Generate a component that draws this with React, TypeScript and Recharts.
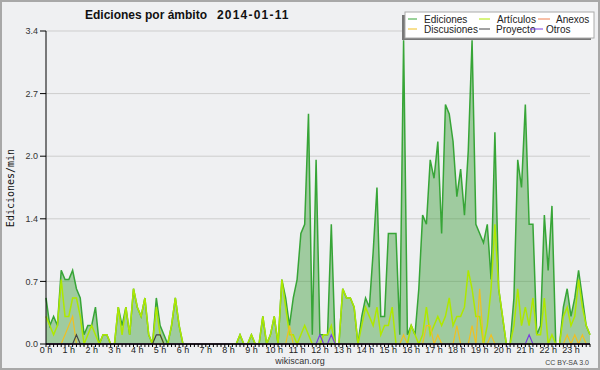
import React from 'react';
import {
  ComposedChart, Area, Line, XAxis, YAxis, CartesianGrid, ReferenceLine,
} from 'recharts';

// one value per 10-minute slot (0h00 .. 23h50), edits per minute
const ediciones = [
  0.5, 0.2, 0.3, 0.2, 0.8, 0.7, 0.7, 0.8, 0.6, 0.5, 0.1, 0.2,
  0.2, 0.4, 0, 0.1, 0.1, 0, 0, 0.4, 0.2, 0.4, 0.1, 0.6,
  0.4, 0.3, 0.5, 0.1, 0, 0.5, 0.2, 0.1, 0, 0.2, 0.5, 0.2,
  0, 0, 0, 0, 0, 0, 0, 0, 0, 0, 0, 0,
  0, 0, 0, 0.1, 0, 0, 0.1, 0, 0, 0.3, 0, 0.1,
  0.3, 0, 0.7, 0.5, 0.2, 0.5, 0.7, 1.2, 1.3, 2.5, 0.1, 2.0,
  0.1, 0.1, 0.1, 1.3, 0, 0, 0.6, 0.5, 0.5, 0.4, 0, 0.3,
  0.5, 0.4, 1.0, 1.7, 0.3, 0.3, 1.2, 1.2, 1.2, 0.1, 3.3, 0.1,
  0.2, 0.1, 0.6, 1.4, 1.3, 2.0, 1.8, 2.2, 1.2, 2.6, 2.5, 2.2,
  1.6, 1.9, 1.4, 2.1, 3.3, 1.3, 1.2, 1.1, 1.3, 0.7, 2.3, 0.6,
  0.3, 0, 0, 0.5, 2.0, 1.7, 2.6, 1.3, 1.3, 0.1, 0.2, 1.4,
  0.8, 1.5, 0, 0, 0.4, 0.6, 0.3, 0.5, 0.8, 0.5, 0.2, 0.1,
];

const articulos = [
  0.3, 0.2, 0.1, 0.2, 0.7, 0.3, 0.3, 0.5, 0.5, 0.3, 0, 0.1,
  0.2, 0.1, 0, 0.1, 0.1, 0, 0, 0.4, 0.1, 0.4, 0.1, 0.6,
  0.4, 0.3, 0.5, 0.1, 0, 0.4, 0.1, 0, 0, 0.2, 0.5, 0.2,
  0, 0, 0, 0, 0, 0, 0, 0, 0, 0, 0, 0,
  0, 0, 0, 0.1, 0, 0, 0.1, 0, 0, 0.3, 0, 0.1,
  0.3, 0, 0.7, 0.4, 0.1, 0.1, 0, 0.1, 0.2, 0.1, 0, 0,
  0, 0.1, 0.1, 0.2, 0, 0, 0.6, 0.5, 0.5, 0.4, 0, 0.2,
  0.4, 0.3, 0.2, 0.4, 0.1, 0.2, 0.2, 0.4, 0, 0, 0, 0,
  0.2, 0.1, 0, 0.1, 0.4, 0.1, 0.2, 0.3, 0.2, 0.3, 0.5, 0.2,
  0.3, 0.3, 0.4, 0.8, 0.6, 0.3, 0.3, 0, 0.2, 0.6, 1.3, 0.6,
  0.3, 0, 0, 0.2, 0.6, 0.2, 0.4, 0.2, 0.5, 0.1, 0.1, 0.5,
  0, 0.1, 0, 0, 0.3, 0.4, 0.2, 0.3, 0.7, 0.4, 0.2, 0.1,
];

const anexos = [
  0, 0, 0, 0, 0, 0, 0, 0, 0, 0, 0, 0, 0, 0, 0, 0, 0, 0, 0, 0, 0, 0, 0, 0,
  0, 0, 0, 0, 0, 0, 0, 0, 0, 0, 0, 0, 0, 0, 0, 0, 0, 0, 0, 0, 0, 0, 0, 0,
  0, 0, 0, 0, 0, 0, 0, 0, 0, 0, 0, 0, 0, 0, 0, 0, 0, 0, 0, 0, 0, 0, 0, 0,
  0, 0, 0, 0, 0, 0, 0, 0, 0, 0, 0, 0, 0, 0, 0, 0, 0, 0, 0, 0, 0, 0, 0, 0,
  0, 0, 0, 0, 0, 0, 0, 0, 0, 0, 0, 0, 0, 0, 0, 0, 0, 0, 0, 0, 0, 0, 0, 0,
  0, 0, 0, 0, 0, 0, 0, 0, 0, 0, 0, 0, 0, 0, 0, 0, 0, 0, 0, 0, 0, 0, 0, 0,
];

const discusiones = [
  0, 0, 0, 0, 0, 0.1, 0.2, 0.3, 0, 0, 0, 0, 0, 0, 0, 0, 0, 0, 0, 0, 0, 0, 0, 0,
  0, 0, 0, 0, 0, 0, 0, 0, 0, 0, 0, 0, 0, 0, 0, 0, 0, 0, 0, 0, 0, 0, 0, 0,
  0, 0, 0, 0, 0, 0, 0, 0, 0, 0, 0, 0, 0, 0, 0, 0, 0.2, 0, 0, 0, 0, 0, 0, 0,
  0, 0, 0, 0, 0, 0, 0, 0, 0, 0, 0, 0, 0, 0, 0, 0, 0, 0, 0, 0, 0, 0, 0.1, 0,
  0, 0, 0, 0, 0.2, 0.2, 0, 0.1, 0, 0, 0, 0, 0.2, 0, 0, 0, 0.2, 0, 0.6, 0, 0, 0.1, 0, 0,
  0, 0, 0, 0, 0, 0, 0, 0, 0, 0, 0, 0, 0, 0, 0, 0, 0, 0.1, 0, 0.1, 0, 0.1, 0, 0,
];

const proyecto = [
  0, 0, 0, 0, 0, 0, 0, 0, 0.1, 0, 0, 0, 0, 0, 0, 0, 0, 0, 0, 0, 0, 0, 0, 0,
  0, 0, 0, 0, 0, 0.1, 0.1, 0, 0, 0, 0, 0, 0, 0, 0, 0, 0, 0, 0, 0, 0, 0, 0, 0,
  0, 0, 0, 0, 0, 0, 0, 0, 0, 0, 0, 0, 0, 0, 0, 0, 0, 0, 0, 0, 0, 0, 0, 0,
  0, 0, 0, 0, 0, 0, 0, 0, 0, 0, 0, 0, 0, 0, 0, 0, 0, 0, 0, 0, 0, 0, 0, 0,
  0, 0, 0, 0, 0, 0, 0, 0, 0, 0, 0, 0, 0, 0, 0, 0, 0, 0, 0, 0, 0, 0, 0, 0,
  0, 0, 0, 0, 0, 0, 0, 0, 0, 0, 0, 0, 0, 0, 0, 0, 0, 0, 0, 0, 0, 0, 0, 0,
];

const otros = [
  0, 0, 0, 0, 0, 0, 0, 0, 0, 0, 0, 0, 0, 0, 0, 0, 0, 0, 0, 0, 0, 0, 0, 0,
  0, 0, 0, 0, 0, 0, 0, 0, 0, 0, 0, 0, 0, 0, 0, 0, 0, 0, 0, 0, 0, 0, 0, 0,
  0, 0, 0, 0, 0, 0, 0, 0, 0, 0, 0, 0, 0, 0, 0, 0, 0, 0, 0, 0, 0, 0, 0, 0,
  0.1, 0, 0, 0.1, 0, 0, 0, 0, 0, 0, 0, 0, 0, 0, 0, 0, 0, 0, 0, 0, 0, 0, 0, 0,
  0, 0, 0, 0, 0, 0, 0, 0, 0, 0, 0, 0, 0, 0, 0, 0, 0, 0, 0, 0, 0, 0, 0, 0,
  0, 0, 0, 0, 0, 0, 0, 0.1, 0, 0, 0, 0, 0, 0, 0, 0, 0, 0, 0, 0, 0, 0, 0, 0,
];

const hourLabels = [
  '0 h', '1 h', '2 h', '3 h', '4 h', '5 h', '6 h', '7 h', '8 h', '9 h', '10 h', '11 h',
  '12 h', '13 h', '14 h', '15 h', '16 h', '17 h', '18 h', '19 h', '20 h', '21 h', '22 h', '23 h',
];
const yTicks = [0, 0.68, 1.36, 2.04, 2.72, 3.4];

const FONT = '"Liberation Sans", Arial, sans-serif';
const BG = '#eff0f2';

const rows = ediciones.map((v, i) => ({
  i,
  ediciones: v,
  articulos: articulos[i],
  anexos: anexos[i],
  discusiones: discusiones[i],
  proyecto: proyecto[i],
  otros: otros[i],
}));
const slotTicks = rows.map((r) => r.i);

const COLORS = {
  ediciones: '#37a537',
  articulos: '#aee800',
  anexos: '#f08050',
  discusiones: '#f0c020',
  proyecto: '#444444',
  otros: '#7a3ce0',
};

const legendItems = [
  { name: 'Ediciones', color: COLORS.ediciones, x1: 408, x2: 417, tx: 424, y: 19 },
  { name: 'Artículos', color: COLORS.articulos, x1: 479, x2: 490, tx: 497, y: 19 },
  { name: 'Anexos', color: COLORS.anexos, x1: 538, x2: 550, tx: 556, y: 19 },
  { name: 'Discusiones', color: COLORS.discusiones, x1: 408, x2: 417, tx: 424, y: 29 },
  { name: 'Proyecto', color: COLORS.proyecto, x1: 479, x2: 490, tx: 496, y: 29 },
  { name: 'Otros', color: COLORS.otros, x1: 530, x2: 543, tx: 546, y: 29 },
];

const HourTick = ({ x, y, payload }: any) => {
  const v = payload.value;
  if (v % 6 !== 0) return <g />;
  return (
    <text x={x} y={y + 4} textAnchor="middle" fontSize={9} fill="#222" fontFamily={FONT}>
      {hourLabels[v / 6]}
    </text>
  );
};

const Overlay = () => (
  <svg width={600} height={370} style={{ position: 'absolute', left: 0, top: 0, pointerEvents: 'none' }}
    fontFamily={FONT}>
    <text x={85} y={19} fontSize={12} fontWeight="bold" fill="#111">
      Ediciones por ámbito
    </text>
    <text x={217} y={19} fontSize={12} fontWeight="bold" fill="#111" letterSpacing={1.2}>
      2014-01-11
    </text>
    <text transform="translate(14,188) rotate(-90)" textAnchor="middle" fontSize={10}
      fontFamily='"DejaVu Sans Mono", monospace' fill="#111">
      Ediciones/min
    </text>
    <text x={300} y={364} textAnchor="middle" fontSize={9} fill="#333">
      wikiscan.org
    </text>
    <text x={589} y={365} textAnchor="end" fontSize={7} fill="#444">
      CC BY-SA 3.0
    </text>
    {/* legend */}
    <rect x={402} y={15} width={189} height={25} fill="#777" />
    <rect x={405} y={12} width={189} height={26} fill="#fff" stroke="#aaa" />
    {legendItems.map((it) => (
      <g key={it.name}>
        <line x1={it.x1} x2={it.x2} y1={it.y} y2={it.y} stroke={it.color} strokeWidth={1} />
        <text x={it.tx} y={it.y + 3.5} fontSize={10} fill="#222">
          {it.name}
        </text>
      </g>
    ))}
  </svg>
);

export default function App() {
  return (
    <div style={{ position: 'absolute', left: 0, top: 0, width: 600, height: 370, background: BG }}>
      <ComposedChart width={600} height={370} data={rows}
        margin={{ top: 31, right: 10, bottom: 6, left: 6 }}>
        <CartesianGrid vertical={false} stroke="#cdcdcd" strokeWidth={1} />
        <XAxis
          dataKey="i"
          type="number"
          domain={[0, 143]}
          ticks={slotTicks}
          interval={0}
          tick={<HourTick />}
          tickSize={3}
          tickLine={{ stroke: '#000' }}
          axisLine={{ stroke: '#000' }}
          height={20}
        />
        <YAxis
          domain={[0, 3.4]}
          ticks={yTicks}
          interval={0}
          tickFormatter={(v: number) => v.toFixed(1)}
          tick={{ fontSize: 9, fill: '#333', fontFamily: FONT }}
          tickSize={6}
          tickMargin={2}
          tickLine={{ stroke: '#000' }}
          axisLine={{ stroke: '#000' }}
          width={40}
        />
        <Area type="linear" dataKey="ediciones" name="Ediciones" stroke={COLORS.ediciones}
          strokeWidth={1.5} fill="#3d9e3a" fillOpacity={0.45} dot={false} activeDot={false}
          isAnimationActive={false} />
        <Line type="linear" dataKey="anexos" name="Anexos" stroke={COLORS.anexos}
          strokeWidth={1.2} dot={false} activeDot={false} isAnimationActive={false} />
        <Line type="linear" dataKey="articulos" name="Artículos" stroke={COLORS.articulos}
          strokeWidth={1.5} dot={false} activeDot={false} isAnimationActive={false} />
        <Line type="linear" dataKey="discusiones" name="Discusiones" stroke={COLORS.discusiones}
          strokeWidth={1.2} dot={false} activeDot={false} isAnimationActive={false} />
        <Line type="linear" dataKey="proyecto" name="Proyecto" stroke={COLORS.proyecto}
          strokeWidth={1.2} dot={false} activeDot={false} isAnimationActive={false} />
        <Line type="linear" dataKey="otros" name="Otros" stroke={COLORS.otros}
          strokeWidth={1.2} dot={false} activeDot={false} isAnimationActive={false} />
        <ReferenceLine y={0} stroke="#000" strokeWidth={1} />
      </ComposedChart>
      <Overlay />
      <div style={{
        position: 'absolute', left: 0, top: 0, width: 600, height: 370,
        boxSizing: 'border-box', border: '2px solid #a8a8a8', pointerEvents: 'none',
      }} />
    </div>
  );
}
